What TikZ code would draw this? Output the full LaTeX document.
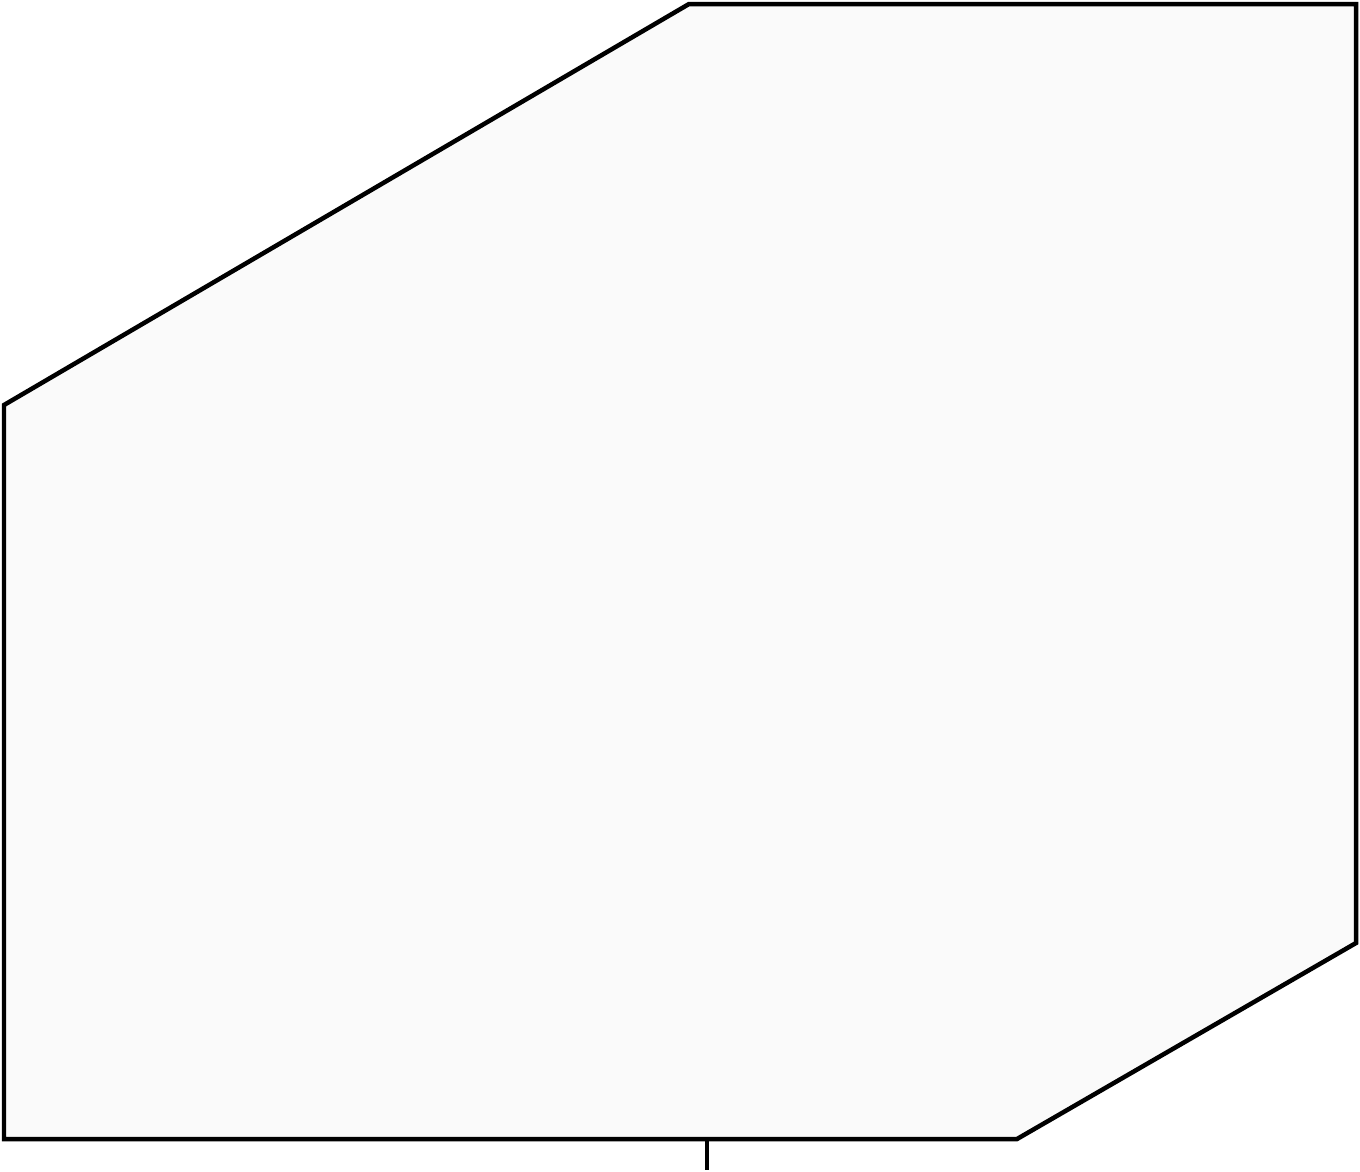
\documentclass[tikz,border=0pt]{standalone}
\usepackage{tikz}
\usetikzlibrary{positioning}

\begin{document}
\begin{tikzpicture}[x=0.02cm, y=-0.02cm, line width=0.09cm, outline/.style={draw=black, fill=black!2, line join=miter}]

    % Frame
    \useasboundingbox (0,0) rectangle (1360,1171);

    % Corners
    \coordinate (LM) at (4,405);
    \coordinate (TL) at (689,4);
    \coordinate (TR) at (1356,4);
    \coordinate (RM) at (1356,943);
    \coordinate (BR) at (1017,1139);
    \coordinate (BL) at (4,1139);
    \coordinate (tick top) at (707,1139);
    \coordinate (tick end) at (707,1170);

    % Outline
    \path[outline] (LM) -- (TL) -- (TR) -- (RM) -- (BR) -- (BL) -- cycle;

    % Tick
    \draw (tick top) -- (tick end);

\end{tikzpicture}
\end{document}
